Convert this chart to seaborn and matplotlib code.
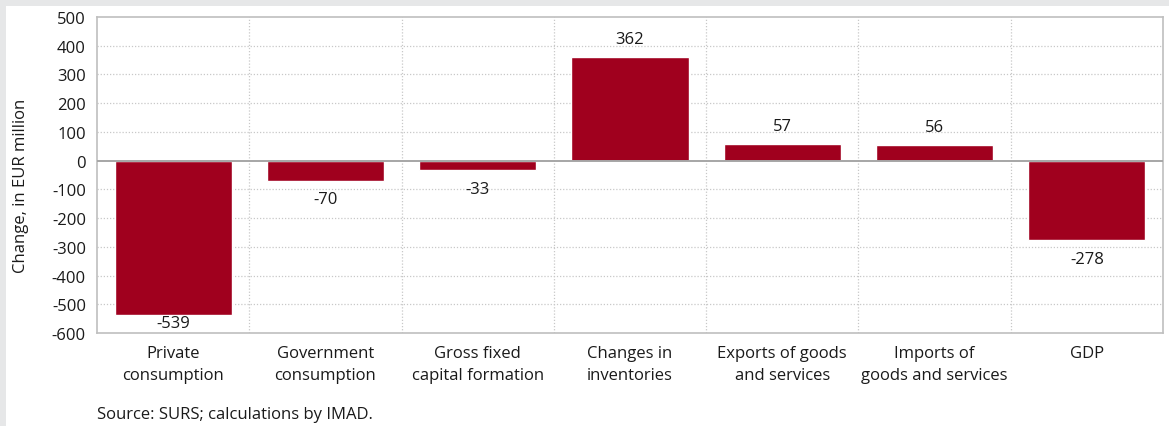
import matplotlib
matplotlib.use("Agg")
import matplotlib.pyplot as plt
import seaborn as sns
import pandas as pd

categories = ["Private\nconsumption", "Government\nconsumption", "Gross fixed\ncapital formation",
              "Changes in\ninventories", "Exports of goods\nand services", "Imports of\ngoods and services", "GDP"]
values = [-539, -70, -33, 362, 57, 56, -278]
y_ticks = [500, 400, 300, 200, 100, 0, -100, -200, -300, -400, -500, -600]

sns.set_theme(style="white")
plt.rcParams["font.family"] = ["Open Sans", "DejaVu Sans"]

df = pd.DataFrame({"category": categories, "value": values})

fig = plt.figure(figsize=(11.69, 4.27), dpi=100, facecolor="#e6e7e8")
# white panel inside the grey frame
panel = fig.add_axes([6 / 1169, 0, 1 - 6 / 1169, 1 - 7 / 427])
panel.set_facecolor("white")
panel.set_xticks([]); panel.set_yticks([])
for s in panel.spines.values():
    s.set_visible(False)

ax = fig.add_axes([97 / 1169, 1 - 334 / 427, (1163 - 97) / 1169, (334 - 18) / 427])
sns.barplot(data=df, x="category", y="value", color="#a0001e", saturation=1,
            width=0.77, ax=ax, zorder=3)

ax.set_ylim(-600, 500)
ax.set_xlim(-0.5, len(categories) - 0.5)
ax.set_yticks(y_ticks)
ax.set_yticklabels([str(t) for t in y_ticks], fontsize=12, color="#1a1a1a")
ax.set_xticks(range(len(categories)))
ax.set_xticklabels(categories, fontsize=12, color="#1a1a1a", linespacing=1.45)
ax.tick_params(axis="x", length=0, pad=9)
ax.tick_params(axis="y", length=0, pad=8)
ax.set_xlabel("")
ax.set_ylabel("Change, in EUR million", fontsize=12, color="#1a1a1a", labelpad=13)
ax.yaxis.set_label_coords(-68 / 1066, 0.47)

# dotted grid: horizontal at ticks, vertical at category boundaries
for t in y_ticks:
    if t not in (0, 500, -600):
        ax.axhline(t, color="#c8c8c8", lw=0.9, ls=(0, (1, 1.5)), zorder=1)
for b in range(1, len(categories)):
    ax.axvline(b - 0.5, color="#c8c8c8", lw=0.9, ls=(0, (1, 1.5)), zorder=1)
ax.axhline(0, color="#a6a6a6", lw=1.4, zorder=4)

for s in ax.spines.values():
    s.set_color("#bfbfbf")
    s.set_linewidth(1.2)

# value labels outside the bar end, kept inside the axes
for i, v in enumerate(values):
    y = v + 62 if v >= 0 else max(v - 65, -566)
    ax.text(i, y, f"{v}", ha="center", va="center", fontsize=12, color="#1a1a1a", zorder=5)

fig.text(97 / 1169, 1 - 415 / 427, "Source: SURS; calculations by IMAD.", fontsize=12,
         color="#1a1a1a", va="center", ha="left")

fig.savefig("out.png", dpi=100, facecolor=fig.get_facecolor())
